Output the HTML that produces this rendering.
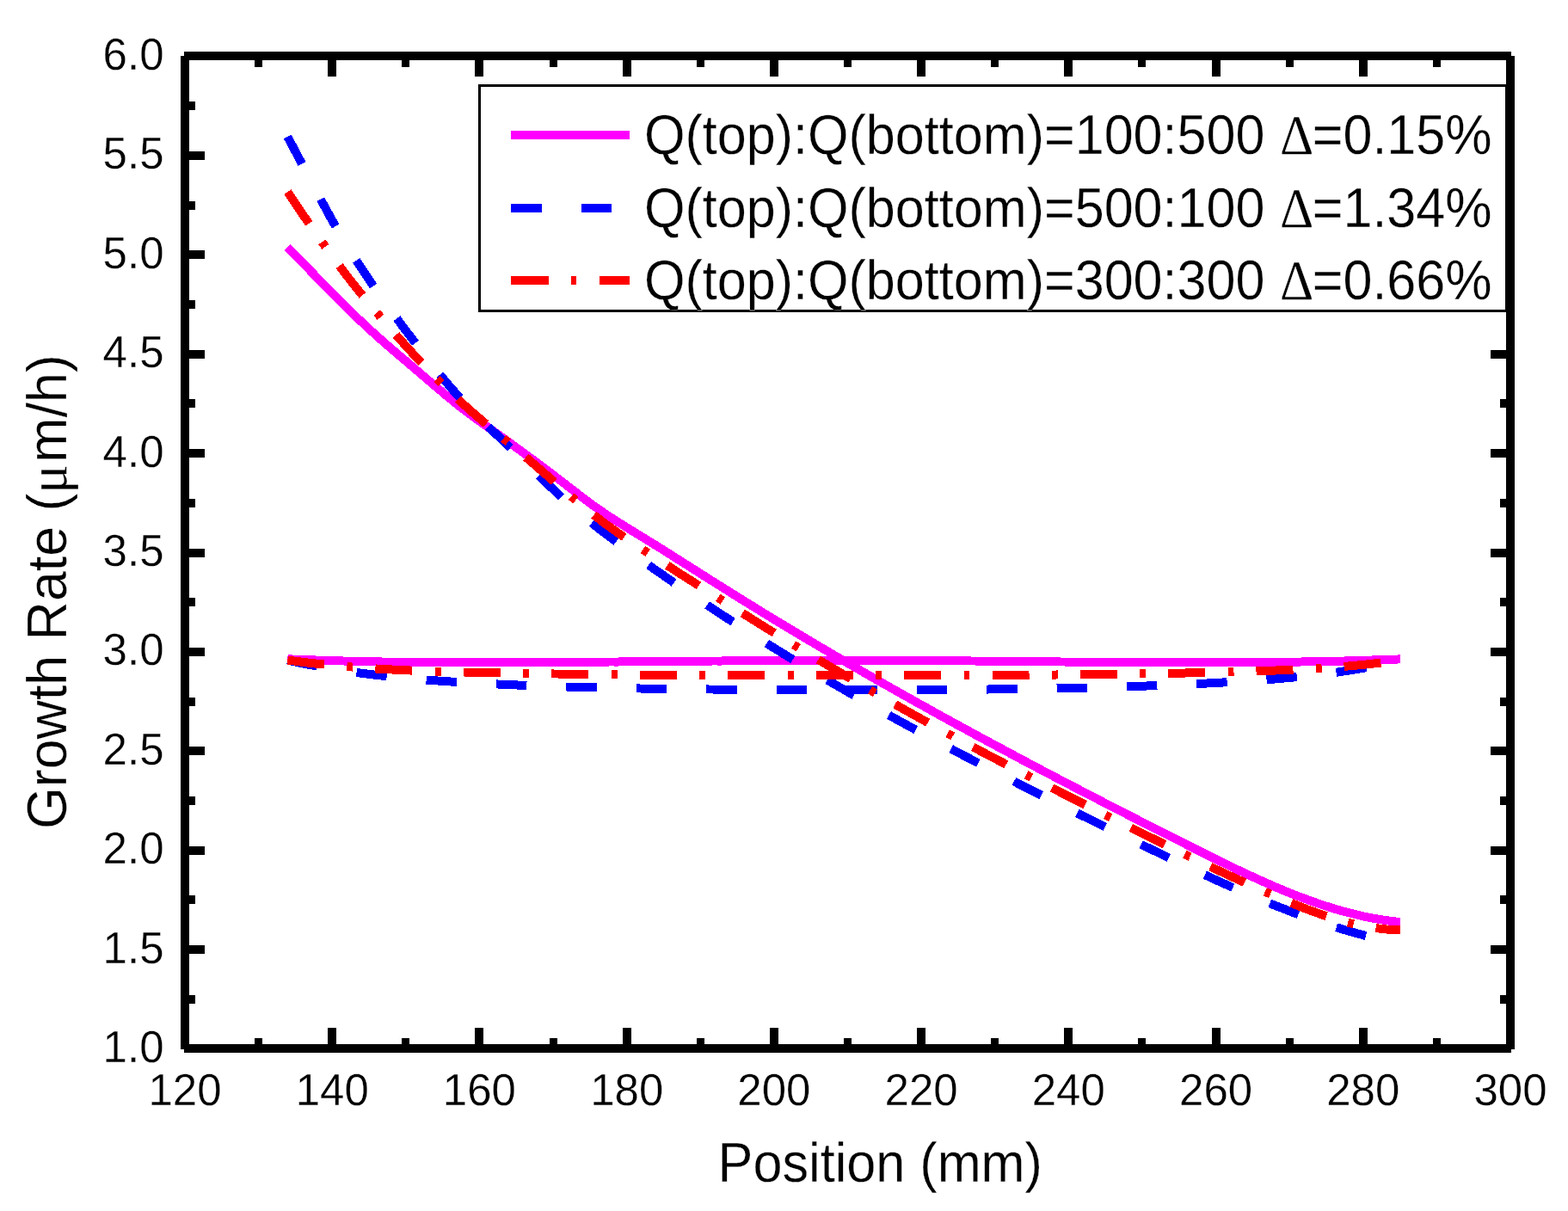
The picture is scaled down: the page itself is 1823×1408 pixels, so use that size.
<!DOCTYPE html>
<html lang="en"><head><meta charset="utf-8"><title>Growth Rate vs Position</title>
<style>html,body{margin:0;padding:0;background:#fff;overflow:hidden}svg{display:block}text{font-family:"Liberation Sans",Arial,sans-serif;fill:#000;stroke:#fff;stroke-width:0.3px;paint-order:fill stroke}.sym{font-family:"Liberation Serif","DejaVu Serif",serif}</style></head><body>
<svg width="1823" height="1408" viewBox="0 0 1823 1408">
<rect width="1823" height="1408" fill="#fff"/>
<g fill="none" stroke-width="10" stroke-linecap="butt" stroke-linejoin="round" shape-rendering="crispEdges">
<path stroke="#ff00ff" d="M334.3,766.2 L339.3,766.5 L344.3,766.7 L349.3,766.9 L354.3,767.0 L359.3,767.2 L364.3,767.4 L369.3,767.6 L374.3,767.8 L379.3,767.9 L384.2,768.1 L389.2,768.2 L394.2,768.4 L399.2,768.5 L404.2,768.6 L409.2,768.8 L414.2,768.9 L419.2,769.0 L424.2,769.1 L429.2,769.2 L434.2,769.3 L439.2,769.4 L444.2,769.5 L449.2,769.6 L454.2,769.7 L459.2,769.7 L464.2,769.8 L469.2,769.9 L474.2,769.9 L479.2,770.0 L484.1,770.0 L489.1,770.1 L494.1,770.1 L499.1,770.2 L504.1,770.2 L509.1,770.3 L514.1,770.3 L519.1,770.3 L524.1,770.3 L529.1,770.4 L534.1,770.4 L539.1,770.4 L544.1,770.4 L549.1,770.4 L554.1,770.4 L559.1,770.4 L564.1,770.4 L569.1,770.4 L574.1,770.4 L579.1,770.4 L584.0,770.4 L589.0,770.4 L594.0,770.4 L599.0,770.3 L604.0,770.3 L609.0,770.3 L614.0,770.3 L619.0,770.2 L624.0,770.2 L629.0,770.2 L634.0,770.2 L639.0,770.1 L644.0,770.1 L649.0,770.0 L654.0,770.0 L659.0,770.0 L664.0,769.9 L669.0,769.9 L674.0,769.9 L679.0,769.8 L683.9,769.8 L688.9,769.7 L693.9,769.7 L698.9,769.6 L703.9,769.6 L708.9,769.5 L713.9,769.5 L718.9,769.5 L723.9,769.4 L728.9,769.4 L733.9,769.3 L738.9,769.3 L743.9,769.2 L748.9,769.2 L753.9,769.1 L758.9,769.1 L763.9,769.1 L768.9,769.0 L773.9,769.0 L778.9,768.9 L783.8,768.9 L788.8,768.9 L793.8,768.8 L798.8,768.8 L803.8,768.7 L808.8,768.7 L813.8,768.7 L818.8,768.6 L823.8,768.6 L828.8,768.5 L833.8,768.5 L838.8,768.5 L843.8,768.4 L848.8,768.4 L853.8,768.4 L858.8,768.3 L863.8,768.3 L868.8,768.3 L873.8,768.3 L878.8,768.2 L883.7,768.2 L888.7,768.2 L893.7,768.1 L898.7,768.1 L903.7,768.1 L908.7,768.1 L913.7,768.1 L918.7,768.0 L923.7,768.0 L928.7,768.0 L933.7,768.0 L938.7,768.0 L943.7,768.0 L948.7,767.9 L953.7,767.9 L958.7,767.9 L963.7,767.9 L968.7,767.9 L973.7,767.9 L978.7,767.9 L983.6,767.9 L988.6,767.9 L993.6,767.9 L998.6,767.9 L1003.6,767.9 L1008.6,767.9 L1013.6,767.9 L1018.6,767.9 L1023.6,767.9 L1028.6,767.9 L1033.6,767.9 L1038.6,767.9 L1043.6,768.0 L1048.6,768.0 L1053.6,768.0 L1058.6,768.0 L1063.6,768.0 L1068.6,768.1 L1073.6,768.1 L1078.6,768.1 L1083.5,768.1 L1088.5,768.2 L1093.5,768.2 L1098.5,768.2 L1103.5,768.3 L1108.5,768.3 L1113.5,768.3 L1118.5,768.4 L1123.5,768.4 L1128.5,768.5 L1133.5,768.5 L1138.5,768.5 L1143.5,768.6 L1148.5,768.6 L1153.5,768.7 L1158.5,768.7 L1163.5,768.8 L1168.5,768.8 L1173.5,768.9 L1178.5,768.9 L1183.4,769.0 L1188.4,769.0 L1193.4,769.1 L1198.4,769.1 L1203.4,769.2 L1208.4,769.2 L1213.4,769.3 L1218.4,769.3 L1223.4,769.4 L1228.4,769.4 L1233.4,769.5 L1238.4,769.5 L1243.4,769.6 L1248.4,769.6 L1253.4,769.6 L1258.4,769.7 L1263.4,769.7 L1268.4,769.8 L1273.4,769.8 L1278.4,769.9 L1283.3,769.9 L1288.3,769.9 L1293.3,770.0 L1298.3,770.0 L1303.3,770.1 L1308.3,770.1 L1313.3,770.1 L1318.3,770.2 L1323.3,770.2 L1328.3,770.2 L1333.3,770.2 L1338.3,770.3 L1343.3,770.3 L1348.3,770.3 L1353.3,770.3 L1358.3,770.4 L1363.3,770.4 L1368.3,770.4 L1373.3,770.4 L1378.3,770.4 L1383.2,770.4 L1388.2,770.4 L1393.2,770.4 L1398.2,770.4 L1403.2,770.4 L1408.2,770.4 L1413.2,770.4 L1418.2,770.4 L1423.2,770.4 L1428.2,770.3 L1433.2,770.3 L1438.2,770.3 L1443.2,770.3 L1448.2,770.2 L1453.2,770.2 L1458.2,770.2 L1463.2,770.1 L1468.2,770.1 L1473.2,770.0 L1478.2,770.0 L1483.1,769.9 L1488.1,769.9 L1493.1,769.8 L1498.1,769.7 L1503.1,769.7 L1508.1,769.6 L1513.1,769.5 L1518.1,769.4 L1523.1,769.3 L1528.1,769.2 L1533.1,769.1 L1538.1,769.0 L1543.1,768.9 L1548.1,768.8 L1553.1,768.7 L1558.1,768.6 L1563.1,768.5 L1568.1,768.3 L1573.1,768.2 L1578.1,768.1 L1583.0,767.9 L1588.0,767.8 L1593.0,767.6 L1598.0,767.4 L1603.0,767.3 L1608.0,767.1 L1613.0,766.9 L1618.0,766.7 L1623.0,766.6 L1628.0,766.4"/>
<path stroke="#ff00ff" d="M334.3,287.4 L339.3,292.5 L344.3,297.7 L349.3,302.9 L354.3,308.0 L359.3,313.2 L364.3,318.3 L369.3,323.5 L374.3,328.6 L379.3,333.7 L384.2,338.8 L389.2,343.8 L394.2,348.8 L399.2,353.8 L404.2,358.7 L409.2,363.6 L414.2,368.4 L419.2,373.2 L424.2,377.9 L429.2,382.5 L434.2,387.1 L439.2,391.6 L444.2,396.0 L449.2,400.4 L454.2,404.7 L459.2,409.0 L464.2,413.3 L469.2,417.5 L474.2,421.7 L479.2,426.0 L484.1,430.2 L489.1,434.5 L494.1,438.8 L499.1,443.1 L504.1,447.4 L509.1,451.6 L514.1,455.8 L519.1,460.0 L524.1,464.1 L529.1,468.2 L534.1,472.2 L539.1,476.1 L544.1,479.9 L549.1,483.6 L554.1,487.3 L559.1,490.9 L564.1,494.5 L569.1,498.0 L574.1,501.6 L579.1,505.1 L584.0,508.7 L589.0,512.2 L594.0,515.8 L599.0,519.4 L604.0,523.1 L609.0,526.7 L614.0,530.4 L619.0,534.1 L624.0,537.8 L629.0,541.5 L634.0,545.3 L639.0,549.0 L644.0,552.8 L649.0,556.7 L654.0,560.5 L659.0,564.4 L664.0,568.2 L669.0,572.1 L674.0,575.9 L679.0,579.7 L683.9,583.4 L688.9,587.1 L693.9,590.6 L698.9,594.1 L703.9,597.5 L708.9,600.8 L713.9,604.0 L718.9,607.2 L723.9,610.3 L728.9,613.4 L733.9,616.5 L738.9,619.6 L743.9,622.6 L748.9,625.7 L753.9,628.8 L758.9,631.9 L763.9,635.0 L768.9,638.1 L773.9,641.2 L778.9,644.4 L783.8,647.5 L788.8,650.7 L793.8,653.8 L798.8,657.0 L803.8,660.2 L808.8,663.3 L813.8,666.5 L818.8,669.7 L823.8,672.8 L828.8,676.0 L833.8,679.1 L838.8,682.3 L843.8,685.4 L848.8,688.6 L853.8,691.7 L858.8,694.8 L863.8,697.9 L868.8,701.0 L873.8,704.1 L878.8,707.1 L883.7,710.2 L888.7,713.3 L893.7,716.3 L898.7,719.4 L903.7,722.4 L908.7,725.4 L913.7,728.4 L918.7,731.4 L923.7,734.4 L928.7,737.4 L933.7,740.4 L938.7,743.4 L943.7,746.4 L948.7,749.3 L953.7,752.3 L958.7,755.2 L963.7,758.1 L968.7,761.1 L973.7,764.0 L978.7,766.9 L983.6,769.8 L988.6,772.7 L993.6,775.6 L998.6,778.5 L1003.6,781.4 L1008.6,784.2 L1013.6,787.1 L1018.6,790.0 L1023.6,792.8 L1028.6,795.7 L1033.6,798.5 L1038.6,801.3 L1043.6,804.1 L1048.6,807.0 L1053.6,809.8 L1058.6,812.6 L1063.6,815.4 L1068.6,818.2 L1073.6,820.9 L1078.6,823.7 L1083.5,826.5 L1088.5,829.3 L1093.5,832.0 L1098.5,834.8 L1103.5,837.5 L1108.5,840.3 L1113.5,843.0 L1118.5,845.7 L1123.5,848.4 L1128.5,851.2 L1133.5,853.9 L1138.5,856.6 L1143.5,859.3 L1148.5,862.0 L1153.5,864.7 L1158.5,867.4 L1163.5,870.0 L1168.5,872.7 L1173.5,875.4 L1178.5,878.1 L1183.4,880.7 L1188.4,883.4 L1193.4,886.0 L1198.4,888.7 L1203.4,891.3 L1208.4,893.9 L1213.4,896.6 L1218.4,899.2 L1223.4,901.8 L1228.4,904.5 L1233.4,907.1 L1238.4,909.7 L1243.4,912.3 L1248.4,914.9 L1253.4,917.5 L1258.4,920.1 L1263.4,922.7 L1268.4,925.3 L1273.4,927.8 L1278.4,930.4 L1283.3,933.0 L1288.3,935.6 L1293.3,938.1 L1298.3,940.7 L1303.3,943.3 L1308.3,945.8 L1313.3,948.4 L1318.3,950.9 L1323.3,953.5 L1328.3,956.0 L1333.3,958.6 L1338.3,961.1 L1343.3,963.7 L1348.3,966.2 L1353.3,968.7 L1358.3,971.2 L1363.3,973.8 L1368.3,976.3 L1373.3,978.8 L1378.3,981.3 L1383.2,983.9 L1388.2,986.4 L1393.2,988.9 L1398.2,991.4 L1403.2,993.9 L1408.2,996.4 L1413.2,998.8 L1418.2,1001.3 L1423.2,1003.7 L1428.2,1006.2 L1433.2,1008.6 L1438.2,1011.0 L1443.2,1013.3 L1448.2,1015.7 L1453.2,1018.0 L1458.2,1020.3 L1463.2,1022.6 L1468.2,1024.8 L1473.2,1027.0 L1478.2,1029.2 L1483.1,1031.4 L1488.1,1033.5 L1493.1,1035.6 L1498.1,1037.6 L1503.1,1039.6 L1508.1,1041.6 L1513.1,1043.5 L1518.1,1045.3 L1523.1,1047.2 L1528.1,1048.9 L1533.1,1050.7 L1538.1,1052.3 L1543.1,1054.0 L1548.1,1055.5 L1553.1,1057.1 L1558.1,1058.5 L1563.1,1059.9 L1568.1,1061.2 L1573.1,1062.5 L1578.1,1063.7 L1583.0,1064.9 L1588.0,1066.0 L1593.0,1067.0 L1598.0,1067.9 L1603.0,1068.8 L1608.0,1069.6 L1613.0,1070.3 L1618.0,1071.0 L1623.0,1071.5 L1628.0,1072.0"/>
<path stroke="#0000ff" stroke-dasharray="35.4 46.15 35.4 46.14 35.4 46.13 35.4 46.11 35.4 46.1 35.4 46.09 35.4 46.07 35.4 46.06 35.4 46.05 35.4 46.03 35.4 46.02 35.4 46.01 35.4 45.99 35.4 45.98 35.4 45.97 35.4 200" d="M334.3,767.5 L339.3,768.6 L344.3,769.7 L349.3,770.8 L354.3,771.8 L359.3,772.8 L364.3,773.7 L369.3,774.7 L374.3,775.6 L379.3,776.4 L384.2,777.3 L389.2,778.1 L394.2,778.9 L399.2,779.7 L404.2,780.4 L409.2,781.2 L414.2,781.9 L419.2,782.6 L424.2,783.2 L429.2,783.9 L434.2,784.5 L439.2,785.1 L444.2,785.6 L449.2,786.2 L454.2,786.7 L459.2,787.3 L464.2,787.8 L469.2,788.2 L474.2,788.7 L479.2,789.2 L484.1,789.6 L489.1,790.0 L494.1,790.4 L499.1,790.8 L504.1,791.2 L509.1,791.5 L514.1,791.9 L519.1,792.2 L524.1,792.5 L529.1,792.9 L534.1,793.2 L539.1,793.5 L544.1,793.7 L549.1,794.0 L554.1,794.3 L559.1,794.5 L564.1,794.8 L569.1,795.0 L574.1,795.3 L579.1,795.5 L584.0,795.7 L589.0,796.0 L594.0,796.2 L599.0,796.4 L604.0,796.6 L609.0,796.8 L614.0,797.0 L619.0,797.2 L624.0,797.4 L629.0,797.5 L634.0,797.7 L639.0,797.9 L644.0,798.1 L649.0,798.2 L654.0,798.4 L659.0,798.5 L664.0,798.7 L669.0,798.8 L674.0,799.0 L679.0,799.1 L683.9,799.2 L688.9,799.3 L693.9,799.5 L698.9,799.6 L703.9,799.7 L708.9,799.8 L713.9,799.9 L718.9,800.0 L723.9,800.1 L728.9,800.2 L733.9,800.3 L738.9,800.4 L743.9,800.5 L748.9,800.6 L753.9,800.7 L758.9,800.7 L763.9,800.8 L768.9,800.9 L773.9,801.0 L778.9,801.0 L783.8,801.1 L788.8,801.1 L793.8,801.2 L798.8,801.3 L803.8,801.3 L808.8,801.4 L813.8,801.4 L818.8,801.4 L823.8,801.5 L828.8,801.5 L833.8,801.6 L838.8,801.6 L843.8,801.6 L848.8,801.7 L853.8,801.7 L858.8,801.7 L863.8,801.7 L868.8,801.8 L873.8,801.8 L878.8,801.8 L883.7,801.8 L888.7,801.8 L893.7,801.9 L898.7,801.9 L903.7,801.9 L908.7,801.9 L913.7,801.9 L918.7,801.9 L923.7,801.9 L928.7,801.9 L933.7,801.9 L938.7,801.9 L943.7,802.0 L948.7,802.0 L953.7,802.0 L958.7,802.0 L963.7,802.0 L968.7,802.0 L973.7,802.0 L978.7,802.0 L983.6,802.0 L988.6,802.0 L993.6,802.0 L998.6,802.0 L1003.6,802.0 L1008.6,802.0 L1013.6,802.0 L1018.6,802.0 L1023.6,802.0 L1028.6,802.0 L1033.6,802.0 L1038.6,802.0 L1043.6,801.9 L1048.6,801.9 L1053.6,801.9 L1058.6,801.9 L1063.6,801.9 L1068.6,801.9 L1073.6,801.9 L1078.6,801.9 L1083.5,801.8 L1088.5,801.8 L1093.5,801.8 L1098.5,801.8 L1103.5,801.8 L1108.5,801.7 L1113.5,801.7 L1118.5,801.7 L1123.5,801.6 L1128.5,801.6 L1133.5,801.6 L1138.5,801.5 L1143.5,801.5 L1148.5,801.5 L1153.5,801.4 L1158.5,801.4 L1163.5,801.3 L1168.5,801.3 L1173.5,801.2 L1178.5,801.1 L1183.4,801.1 L1188.4,801.0 L1193.4,800.9 L1198.4,800.9 L1203.4,800.8 L1208.4,800.7 L1213.4,800.6 L1218.4,800.6 L1223.4,800.5 L1228.4,800.4 L1233.4,800.3 L1238.4,800.2 L1243.4,800.1 L1248.4,800.0 L1253.4,799.9 L1258.4,799.8 L1263.4,799.6 L1268.4,799.5 L1273.4,799.4 L1278.4,799.3 L1283.3,799.1 L1288.3,799.0 L1293.3,798.8 L1298.3,798.7 L1303.3,798.5 L1308.3,798.4 L1313.3,798.2 L1318.3,798.1 L1323.3,797.9 L1328.3,797.7 L1333.3,797.5 L1338.3,797.4 L1343.3,797.2 L1348.3,797.0 L1353.3,796.8 L1358.3,796.6 L1363.3,796.4 L1368.3,796.1 L1373.3,795.9 L1378.3,795.7 L1383.2,795.5 L1388.2,795.2 L1393.2,795.0 L1398.2,794.7 L1403.2,794.5 L1408.2,794.2 L1413.2,793.9 L1418.2,793.7 L1423.2,793.4 L1428.2,793.1 L1433.2,792.8 L1438.2,792.5 L1443.2,792.2 L1448.2,791.9 L1453.2,791.6 L1458.2,791.2 L1463.2,790.9 L1468.2,790.5 L1473.2,790.1 L1478.2,789.8 L1483.1,789.4 L1488.1,788.9 L1493.1,788.5 L1498.1,788.1 L1503.1,787.6 L1508.1,787.1 L1513.1,786.6 L1518.1,786.1 L1523.1,785.5 L1528.1,785.0 L1533.1,784.4 L1538.1,783.8 L1543.1,783.1 L1548.1,782.5 L1553.1,781.8 L1558.1,781.1 L1563.1,780.3 L1568.1,779.6 L1573.1,778.8 L1578.1,778.0 L1583.0,777.1 L1588.0,776.2 L1593.0,775.3 L1598.0,774.3 L1603.0,773.3 L1608.0,772.3 L1613.0,771.2 L1618.0,770.1 L1623.0,769.0 L1628.0,767.8"/>
<path stroke="#0000ff" stroke-dasharray="35.8 46.51 35.8 46.52 35.8 46.52 35.8 46.52 35.8 46.53 35.8 46.53 35.8 46.53 35.8 46.54 35.8 46.54 35.8 46.54 35.8 46.55 35.8 46.55 35.8 46.55 35.8 46.56 35.8 46.56 35.8 46.56 35.8 46.57 35.8 46.57 35.8 46.57 35.8 200" d="M334.3,159.0 L339.3,168.3 L344.3,177.8 L349.3,187.2 L354.3,196.7 L359.3,206.3 L364.3,215.7 L369.3,225.1 L374.3,234.5 L379.3,243.6 L384.2,252.7 L389.2,261.5 L394.2,270.1 L399.2,278.6 L404.2,286.8 L409.2,294.8 L414.2,302.6 L419.2,310.3 L424.2,317.9 L429.2,325.3 L434.2,332.5 L439.2,339.7 L444.2,346.8 L449.2,353.7 L454.2,360.6 L459.2,367.4 L464.2,374.1 L469.2,380.8 L474.2,387.4 L479.2,394.0 L484.1,400.6 L489.1,407.1 L494.1,413.6 L499.1,420.0 L504.1,426.4 L509.1,432.6 L514.1,438.7 L519.1,444.7 L524.1,450.6 L529.1,456.3 L534.1,461.8 L539.1,467.2 L544.1,472.5 L549.1,477.7 L554.1,482.7 L559.1,487.7 L564.1,492.6 L569.1,497.4 L574.1,502.2 L579.1,507.0 L584.0,511.8 L589.0,516.6 L594.0,521.4 L599.0,526.2 L604.0,531.1 L609.0,536.0 L614.0,540.9 L619.0,545.8 L624.0,550.6 L629.0,555.5 L634.0,560.3 L639.0,565.1 L644.0,569.8 L649.0,574.4 L654.0,579.0 L659.0,583.4 L664.0,587.8 L669.0,592.1 L674.0,596.4 L679.0,600.5 L683.9,604.6 L688.9,608.7 L693.9,612.7 L698.9,616.6 L703.9,620.4 L708.9,624.2 L713.9,628.0 L718.9,631.7 L723.9,635.4 L728.9,639.1 L733.9,642.7 L738.9,646.3 L743.9,649.8 L748.9,653.4 L753.9,656.9 L758.9,660.4 L763.9,663.9 L768.9,667.4 L773.9,670.8 L778.9,674.3 L783.8,677.7 L788.8,681.1 L793.8,684.5 L798.8,687.9 L803.8,691.3 L808.8,694.6 L813.8,698.0 L818.8,701.3 L823.8,704.6 L828.8,707.9 L833.8,711.2 L838.8,714.5 L843.8,717.7 L848.8,721.0 L853.8,724.2 L858.8,727.4 L863.8,730.6 L868.8,733.8 L873.8,737.0 L878.8,740.1 L883.7,743.3 L888.7,746.4 L893.7,749.5 L898.7,752.6 L903.7,755.7 L908.7,758.8 L913.7,761.8 L918.7,764.9 L923.7,767.9 L928.7,770.9 L933.7,773.9 L938.7,776.9 L943.7,779.9 L948.7,782.9 L953.7,785.8 L958.7,788.8 L963.7,791.7 L968.7,794.6 L973.7,797.5 L978.7,800.4 L983.6,803.3 L988.6,806.2 L993.6,809.0 L998.6,811.9 L1003.6,814.7 L1008.6,817.6 L1013.6,820.4 L1018.6,823.2 L1023.6,826.0 L1028.6,828.8 L1033.6,831.6 L1038.6,834.3 L1043.6,837.1 L1048.6,839.8 L1053.6,842.6 L1058.6,845.3 L1063.6,848.0 L1068.6,850.7 L1073.6,853.4 L1078.6,856.1 L1083.5,858.8 L1088.5,861.5 L1093.5,864.2 L1098.5,866.8 L1103.5,869.5 L1108.5,872.1 L1113.5,874.7 L1118.5,877.4 L1123.5,880.0 L1128.5,882.6 L1133.5,885.2 L1138.5,887.8 L1143.5,890.4 L1148.5,893.0 L1153.5,895.6 L1158.5,898.1 L1163.5,900.7 L1168.5,903.2 L1173.5,905.8 L1178.5,908.3 L1183.4,910.9 L1188.4,913.4 L1193.4,915.9 L1198.4,918.5 L1203.4,921.0 L1208.4,923.5 L1213.4,926.0 L1218.4,928.5 L1223.4,931.0 L1228.4,933.5 L1233.4,936.0 L1238.4,938.5 L1243.4,940.9 L1248.4,943.4 L1253.4,945.9 L1258.4,948.4 L1263.4,950.8 L1268.4,953.3 L1273.4,955.7 L1278.4,958.2 L1283.3,960.6 L1288.3,963.1 L1293.3,965.5 L1298.3,968.0 L1303.3,970.4 L1308.3,972.8 L1313.3,975.3 L1318.3,977.7 L1323.3,980.1 L1328.3,982.6 L1333.3,985.0 L1338.3,987.4 L1343.3,989.8 L1348.3,992.2 L1353.3,994.7 L1358.3,997.1 L1363.3,999.5 L1368.3,1001.8 L1373.3,1004.2 L1378.3,1006.6 L1383.2,1009.0 L1388.2,1011.3 L1393.2,1013.7 L1398.2,1016.0 L1403.2,1018.3 L1408.2,1020.6 L1413.2,1022.9 L1418.2,1025.2 L1423.2,1027.4 L1428.2,1029.7 L1433.2,1031.9 L1438.2,1034.1 L1443.2,1036.3 L1448.2,1038.4 L1453.2,1040.6 L1458.2,1042.7 L1463.2,1044.8 L1468.2,1046.9 L1473.2,1049.0 L1478.2,1051.0 L1483.1,1053.0 L1488.1,1055.0 L1493.1,1056.9 L1498.1,1058.9 L1503.1,1060.8 L1508.1,1062.6 L1513.1,1064.5 L1518.1,1066.3 L1523.1,1068.1 L1528.1,1069.8 L1533.1,1071.5 L1538.1,1073.2 L1543.1,1074.9 L1548.1,1076.5 L1553.1,1078.1 L1558.1,1079.6 L1563.1,1081.1 L1568.1,1082.6 L1573.1,1084.0 L1578.1,1085.4 L1583.0,1086.7 L1588.0,1088.1 L1593.0,1089.3 L1598.0,1090.5 L1603.0,1091.7 L1608.0,1092.9 L1613.0,1094.0 L1618.0,1095.0 L1623.0,1096.0 L1628.0,1097.0"/>
<path stroke="#ff0000" stroke-dasharray="43 26.5 6.8 26.29 43 26.5 6.8 26.26 43 26.5 6.8 26.23 43 26.5 6.8 26.2 43 26.5 6.8 26.17 43 26.5 6.8 26.14 43 26.5 6.8 26.11 43 26.5 6.8 26.09 43 26.5 6.8 26.06 43 26.5 6.8 26.03 43 26.5 6.8 26 43 26.5 6.8 25.97 43 200" d="M334.3,767.5 L339.3,768.2 L344.3,768.8 L349.3,769.5 L354.3,770.1 L359.3,770.7 L364.3,771.3 L369.3,771.8 L374.3,772.3 L379.3,772.8 L384.2,773.3 L389.2,773.8 L394.2,774.3 L399.2,774.7 L404.2,775.1 L409.2,775.5 L414.2,775.9 L419.2,776.3 L424.2,776.6 L429.2,777.0 L434.2,777.3 L439.2,777.6 L444.2,777.9 L449.2,778.2 L454.2,778.4 L459.2,778.7 L464.2,778.9 L469.2,779.2 L474.2,779.4 L479.2,779.6 L484.1,779.8 L489.1,780.0 L494.1,780.2 L499.1,780.4 L504.1,780.5 L509.1,780.7 L514.1,780.8 L519.1,781.0 L524.1,781.1 L529.1,781.3 L534.1,781.4 L539.1,781.5 L544.1,781.6 L549.1,781.8 L554.1,781.9 L559.1,782.0 L564.1,782.1 L569.1,782.2 L574.1,782.3 L579.1,782.4 L584.0,782.5 L589.0,782.6 L594.0,782.7 L599.0,782.8 L604.0,782.8 L609.0,782.9 L614.0,783.0 L619.0,783.1 L624.0,783.2 L629.0,783.3 L634.0,783.3 L639.0,783.4 L644.0,783.5 L649.0,783.5 L654.0,783.6 L659.0,783.7 L664.0,783.7 L669.0,783.8 L674.0,783.9 L679.0,783.9 L683.9,784.0 L688.9,784.0 L693.9,784.1 L698.9,784.1 L703.9,784.2 L708.9,784.2 L713.9,784.3 L718.9,784.3 L723.9,784.4 L728.9,784.4 L733.9,784.4 L738.9,784.5 L743.9,784.5 L748.9,784.6 L753.9,784.6 L758.9,784.6 L763.9,784.7 L768.9,784.7 L773.9,784.7 L778.9,784.7 L783.8,784.8 L788.8,784.8 L793.8,784.8 L798.8,784.8 L803.8,784.9 L808.8,784.9 L813.8,784.9 L818.8,784.9 L823.8,784.9 L828.8,784.9 L833.8,785.0 L838.8,785.0 L843.8,785.0 L848.8,785.0 L853.8,785.0 L858.8,785.0 L863.8,785.0 L868.8,785.0 L873.8,785.0 L878.8,785.0 L883.7,785.0 L888.7,785.0 L893.7,785.0 L898.7,785.1 L903.7,785.1 L908.7,785.1 L913.7,785.1 L918.7,785.1 L923.7,785.1 L928.7,785.1 L933.7,785.1 L938.7,785.1 L943.7,785.1 L948.7,785.0 L953.7,785.0 L958.7,785.0 L963.7,785.0 L968.7,785.0 L973.7,785.0 L978.7,785.0 L983.6,785.0 L988.6,785.0 L993.6,785.0 L998.6,785.0 L1003.6,785.0 L1008.6,785.0 L1013.6,785.0 L1018.6,785.0 L1023.6,785.0 L1028.6,785.0 L1033.6,785.0 L1038.6,785.0 L1043.6,784.9 L1048.6,784.9 L1053.6,784.9 L1058.6,784.9 L1063.6,784.9 L1068.6,784.9 L1073.6,784.9 L1078.6,784.9 L1083.5,784.9 L1088.5,784.9 L1093.5,784.9 L1098.5,784.9 L1103.5,784.9 L1108.5,784.9 L1113.5,784.9 L1118.5,784.9 L1123.5,784.8 L1128.5,784.8 L1133.5,784.8 L1138.5,784.8 L1143.5,784.8 L1148.5,784.8 L1153.5,784.8 L1158.5,784.8 L1163.5,784.8 L1168.5,784.7 L1173.5,784.7 L1178.5,784.7 L1183.4,784.7 L1188.4,784.7 L1193.4,784.7 L1198.4,784.6 L1203.4,784.6 L1208.4,784.6 L1213.4,784.6 L1218.4,784.5 L1223.4,784.5 L1228.4,784.5 L1233.4,784.4 L1238.4,784.4 L1243.4,784.4 L1248.4,784.3 L1253.4,784.3 L1258.4,784.3 L1263.4,784.2 L1268.4,784.2 L1273.4,784.1 L1278.4,784.1 L1283.3,784.0 L1288.3,784.0 L1293.3,783.9 L1298.3,783.8 L1303.3,783.8 L1308.3,783.7 L1313.3,783.7 L1318.3,783.6 L1323.3,783.5 L1328.3,783.4 L1333.3,783.4 L1338.3,783.3 L1343.3,783.2 L1348.3,783.1 L1353.3,783.0 L1358.3,782.9 L1363.3,782.8 L1368.3,782.7 L1373.3,782.6 L1378.3,782.5 L1383.2,782.4 L1388.2,782.3 L1393.2,782.2 L1398.2,782.1 L1403.2,782.0 L1408.2,781.8 L1413.2,781.7 L1418.2,781.6 L1423.2,781.4 L1428.2,781.3 L1433.2,781.2 L1438.2,781.0 L1443.2,780.9 L1448.2,780.7 L1453.2,780.5 L1458.2,780.4 L1463.2,780.2 L1468.2,780.0 L1473.2,779.8 L1478.2,779.7 L1483.1,779.5 L1488.1,779.3 L1493.1,779.1 L1498.1,778.8 L1503.1,778.6 L1508.1,778.4 L1513.1,778.1 L1518.1,777.9 L1523.1,777.6 L1528.1,777.3 L1533.1,777.0 L1538.1,776.7 L1543.1,776.4 L1548.1,776.0 L1553.1,775.6 L1558.1,775.3 L1563.1,774.9 L1568.1,774.4 L1573.1,774.0 L1578.1,773.5 L1583.0,773.0 L1588.0,772.5 L1593.0,772.0 L1598.0,771.4 L1603.0,770.8 L1608.0,770.2 L1613.0,769.6 L1618.0,768.9 L1623.0,768.2 L1628.0,767.5"/>
<path stroke="#ff0000" stroke-dasharray="44.4 26.2 6.8 27.47 43.6 26.2 6.8 27.38 43.6 26.2 6.8 27.29 43.6 26.2 6.8 27.2 43.6 26.2 6.8 27.11 43.6 26.2 6.8 27.02 43.6 26.2 6.8 26.93 43.6 26.2 6.8 26.84 43.6 26.2 6.8 26.75 43.6 26.2 6.8 26.66 43.6 26.2 6.8 26.57 43.6 26.2 6.8 26.48 43.6 26.2 6.8 26.39 43.6 26.2 6.8 26.3 43.6 26.2 6.8 26.21 43.6 200" d="M334.3,223.2 L339.3,230.6 L344.3,238.0 L349.3,245.4 L354.3,252.7 L359.3,260.0 L364.3,267.2 L369.3,274.3 L374.3,281.4 L379.3,288.3 L384.2,295.2 L389.2,302.0 L394.2,308.7 L399.2,315.3 L404.2,321.8 L409.2,328.3 L414.2,334.6 L419.2,340.8 L424.2,346.9 L429.2,353.0 L434.2,359.0 L439.2,364.9 L444.2,370.8 L449.2,376.6 L454.2,382.3 L459.2,388.0 L464.2,393.6 L469.2,399.2 L474.2,404.8 L479.2,410.2 L484.1,415.6 L489.1,421.0 L494.1,426.3 L499.1,431.5 L504.1,436.6 L509.1,441.7 L514.1,446.7 L519.1,451.6 L524.1,456.4 L529.1,461.1 L534.1,465.8 L539.1,470.3 L544.1,474.8 L549.1,479.2 L554.1,483.5 L559.1,487.8 L564.1,492.1 L569.1,496.3 L574.1,500.4 L579.1,504.6 L584.0,508.7 L589.0,512.9 L594.0,517.0 L599.0,521.2 L604.0,525.4 L609.0,529.6 L614.0,533.8 L619.0,538.1 L624.0,542.4 L629.0,546.8 L634.0,551.1 L639.0,555.5 L644.0,559.9 L649.0,564.2 L654.0,568.5 L659.0,572.8 L664.0,577.1 L669.0,581.3 L674.0,585.5 L679.0,589.6 L683.9,593.7 L688.9,597.6 L693.9,601.5 L698.9,605.3 L703.9,609.1 L708.9,612.7 L713.9,616.3 L718.9,619.9 L723.9,623.4 L728.9,626.8 L733.9,630.2 L738.9,633.5 L743.9,636.9 L748.9,640.1 L753.9,643.4 L758.9,646.6 L763.9,649.8 L768.9,653.0 L773.9,656.2 L778.9,659.4 L783.8,662.6 L788.8,665.8 L793.8,669.0 L798.8,672.2 L803.8,675.3 L808.8,678.5 L813.8,681.7 L818.8,684.9 L823.8,688.0 L828.8,691.2 L833.8,694.4 L838.8,697.5 L843.8,700.7 L848.8,703.8 L853.8,707.0 L858.8,710.1 L863.8,713.2 L868.8,716.3 L873.8,719.5 L878.8,722.6 L883.7,725.7 L888.7,728.8 L893.7,731.9 L898.7,735.0 L903.7,738.0 L908.7,741.1 L913.7,744.2 L918.7,747.2 L923.7,750.3 L928.7,753.3 L933.7,756.3 L938.7,759.4 L943.7,762.4 L948.7,765.4 L953.7,768.4 L958.7,771.3 L963.7,774.3 L968.7,777.3 L973.7,780.2 L978.7,783.2 L983.6,786.1 L988.6,789.0 L993.6,791.9 L998.6,794.9 L1003.6,797.8 L1008.6,800.6 L1013.6,803.5 L1018.6,806.4 L1023.6,809.3 L1028.6,812.1 L1033.6,814.9 L1038.6,817.8 L1043.6,820.6 L1048.6,823.4 L1053.6,826.2 L1058.6,829.0 L1063.6,831.8 L1068.6,834.6 L1073.6,837.3 L1078.6,840.1 L1083.5,842.8 L1088.5,845.6 L1093.5,848.3 L1098.5,851.0 L1103.5,853.7 L1108.5,856.4 L1113.5,859.1 L1118.5,861.8 L1123.5,864.5 L1128.5,867.1 L1133.5,869.8 L1138.5,872.4 L1143.5,875.0 L1148.5,877.7 L1153.5,880.3 L1158.5,882.9 L1163.5,885.5 L1168.5,888.1 L1173.5,890.7 L1178.5,893.3 L1183.4,895.9 L1188.4,898.4 L1193.4,901.0 L1198.4,903.6 L1203.4,906.1 L1208.4,908.7 L1213.4,911.2 L1218.4,913.8 L1223.4,916.3 L1228.4,918.8 L1233.4,921.4 L1238.4,923.9 L1243.4,926.4 L1248.4,928.9 L1253.4,931.5 L1258.4,934.0 L1263.4,936.5 L1268.4,939.0 L1273.4,941.5 L1278.4,944.0 L1283.3,946.5 L1288.3,949.1 L1293.3,951.6 L1298.3,954.1 L1303.3,956.6 L1308.3,959.1 L1313.3,961.6 L1318.3,964.1 L1323.3,966.6 L1328.3,969.1 L1333.3,971.5 L1338.3,974.0 L1343.3,976.5 L1348.3,979.0 L1353.3,981.4 L1358.3,983.9 L1363.3,986.4 L1368.3,988.8 L1373.3,991.2 L1378.3,993.7 L1383.2,996.1 L1388.2,998.5 L1393.2,1000.9 L1398.2,1003.3 L1403.2,1005.7 L1408.2,1008.1 L1413.2,1010.5 L1418.2,1012.8 L1423.2,1015.2 L1428.2,1017.5 L1433.2,1019.8 L1438.2,1022.1 L1443.2,1024.4 L1448.2,1026.7 L1453.2,1029.0 L1458.2,1031.2 L1463.2,1033.4 L1468.2,1035.7 L1473.2,1037.9 L1478.2,1040.1 L1483.1,1042.2 L1488.1,1044.4 L1493.1,1046.5 L1498.1,1048.6 L1503.1,1050.7 L1508.1,1052.7 L1513.1,1054.7 L1518.1,1056.6 L1523.1,1058.5 L1528.1,1060.3 L1533.1,1062.1 L1538.1,1063.9 L1543.1,1065.5 L1548.1,1067.1 L1553.1,1068.7 L1558.1,1070.1 L1563.1,1071.5 L1568.1,1072.8 L1573.1,1074.1 L1578.1,1075.2 L1583.0,1076.3 L1588.0,1077.2 L1593.0,1078.1 L1598.0,1078.9 L1603.0,1079.5 L1608.0,1080.1 L1613.0,1080.6 L1618.0,1080.9 L1623.0,1081.1 L1628.0,1081.2"/>
</g>
<g fill="#000" shape-rendering="crispEdges">
<rect x="296" y="65" width="9" height="13"/>
<rect x="296" y="1207" width="9" height="12"/>
<rect x="381" y="65" width="10" height="24"/>
<rect x="381" y="1195" width="10" height="24"/>
<rect x="467" y="65" width="9" height="13"/>
<rect x="467" y="1207" width="9" height="12"/>
<rect x="552" y="65" width="10" height="24"/>
<rect x="552" y="1195" width="10" height="24"/>
<rect x="639" y="65" width="9" height="13"/>
<rect x="639" y="1207" width="9" height="12"/>
<rect x="724" y="65" width="10" height="24"/>
<rect x="724" y="1195" width="10" height="24"/>
<rect x="810" y="65" width="9" height="13"/>
<rect x="810" y="1207" width="9" height="12"/>
<rect x="895" y="65" width="10" height="24"/>
<rect x="895" y="1195" width="10" height="24"/>
<rect x="981" y="65" width="9" height="13"/>
<rect x="981" y="1207" width="9" height="12"/>
<rect x="1066" y="65" width="10" height="24"/>
<rect x="1066" y="1195" width="10" height="24"/>
<rect x="1152" y="65" width="9" height="13"/>
<rect x="1152" y="1207" width="9" height="12"/>
<rect x="1237" y="65" width="10" height="24"/>
<rect x="1237" y="1195" width="10" height="24"/>
<rect x="1323" y="65" width="9" height="13"/>
<rect x="1323" y="1207" width="9" height="12"/>
<rect x="1409" y="65" width="10" height="24"/>
<rect x="1409" y="1195" width="10" height="24"/>
<rect x="1495" y="65" width="9" height="13"/>
<rect x="1495" y="1207" width="9" height="12"/>
<rect x="1580" y="65" width="10" height="24"/>
<rect x="1580" y="1195" width="10" height="24"/>
<rect x="1666" y="65" width="9" height="13"/>
<rect x="1666" y="1207" width="9" height="12"/>
<rect x="215" y="1157" width="12" height="10"/>
<rect x="1744" y="1157" width="12" height="10"/>
<rect x="215" y="1099" width="23" height="10"/>
<rect x="1733" y="1099" width="23" height="10"/>
<rect x="215" y="1041" width="12" height="10"/>
<rect x="1744" y="1041" width="12" height="10"/>
<rect x="215" y="984" width="23" height="10"/>
<rect x="1733" y="984" width="23" height="10"/>
<rect x="215" y="926" width="12" height="10"/>
<rect x="1744" y="926" width="12" height="10"/>
<rect x="215" y="868" width="23" height="10"/>
<rect x="1733" y="868" width="23" height="10"/>
<rect x="215" y="811" width="12" height="10"/>
<rect x="1744" y="811" width="12" height="10"/>
<rect x="215" y="753" width="23" height="10"/>
<rect x="1733" y="753" width="23" height="10"/>
<rect x="215" y="695" width="12" height="10"/>
<rect x="1744" y="695" width="12" height="10"/>
<rect x="215" y="638" width="23" height="10"/>
<rect x="1733" y="638" width="23" height="10"/>
<rect x="215" y="580" width="12" height="10"/>
<rect x="1744" y="580" width="12" height="10"/>
<rect x="215" y="522" width="23" height="10"/>
<rect x="1733" y="522" width="23" height="10"/>
<rect x="215" y="464" width="12" height="10"/>
<rect x="1744" y="464" width="12" height="10"/>
<rect x="215" y="407" width="23" height="10"/>
<rect x="1733" y="407" width="23" height="10"/>
<rect x="215" y="349" width="12" height="10"/>
<rect x="1744" y="349" width="12" height="10"/>
<rect x="215" y="291" width="23" height="10"/>
<rect x="1733" y="291" width="23" height="10"/>
<rect x="215" y="234" width="12" height="10"/>
<rect x="1744" y="234" width="12" height="10"/>
<rect x="215" y="176" width="23" height="10"/>
<rect x="1733" y="176" width="23" height="10"/>
<rect x="215" y="118" width="12" height="10"/>
<rect x="1744" y="118" width="12" height="10"/>
</g>
<g shape-rendering="crispEdges">
<rect x="557.5" y="99.5" width="1194" height="262" fill="#fff" stroke="#000" stroke-width="3"/>
<rect x="594" y="152" width="138" height="10" fill="#ff00ff"/>
<rect x="594" y="237" width="36" height="10" fill="#0000ff"/><rect x="676" y="237" width="35" height="10" fill="#0000ff"/>
<rect x="594" y="321" width="44" height="10" fill="#ff0000"/><rect x="664" y="321" width="6" height="10" fill="#ff0000"/><rect x="697" y="321" width="35" height="10" fill="#ff0000"/>
</g>
<text transform="translate(748.9,179.2) scale(1,1.07)" font-size="61.1" xml:space="preserve">Q(top):Q(bottom)=100:500 <tspan class="sym" dx="0.6">Δ</tspan><tspan dx="-1.6">=0.15%</tspan></text>
<text transform="translate(748.9,263.7) scale(1,1.07)" font-size="61.1" xml:space="preserve">Q(top):Q(bottom)=500:100 <tspan class="sym" dx="0.6">Δ</tspan><tspan dx="-1.6">=1.34%</tspan></text>
<text transform="translate(748.9,348.2) scale(1,1.07)" font-size="61.1" xml:space="preserve">Q(top):Q(bottom)=300:300 <tspan class="sym" dx="0.6">Δ</tspan><tspan dx="-1.6">=0.66%</tspan></text>
<g fill="#000" shape-rendering="crispEdges">
<rect x="214" y="60" width="1543" height="10"/>
<rect x="214" y="1214" width="1543" height="10"/>
<rect x="210" y="65" width="10" height="1155"/>
<rect x="1751" y="65" width="10" height="1155"/>
</g>
<g font-size="51">
<text transform="translate(215.0,1285) scale(1,1.03)" text-anchor="middle">120</text>
<text transform="translate(386.2,1285) scale(1,1.03)" text-anchor="middle">140</text>
<text transform="translate(557.4,1285) scale(1,1.03)" text-anchor="middle">160</text>
<text transform="translate(728.7,1285) scale(1,1.03)" text-anchor="middle">180</text>
<text transform="translate(899.9,1285) scale(1,1.03)" text-anchor="middle">200</text>
<text transform="translate(1071.1,1285) scale(1,1.03)" text-anchor="middle">220</text>
<text transform="translate(1242.3,1285) scale(1,1.03)" text-anchor="middle">240</text>
<text transform="translate(1413.6,1285) scale(1,1.03)" text-anchor="middle">260</text>
<text transform="translate(1584.8,1285) scale(1,1.03)" text-anchor="middle">280</text>
<text transform="translate(1756.0,1285) scale(1,1.03)" text-anchor="middle">300</text>
<text transform="translate(190.5,1235.0) scale(1,1.03)" text-anchor="end">1.0</text>
<text transform="translate(190.5,1119.6) scale(1,1.03)" text-anchor="end">1.5</text>
<text transform="translate(190.5,1004.2) scale(1,1.03)" text-anchor="end">2.0</text>
<text transform="translate(190.5,888.8) scale(1,1.03)" text-anchor="end">2.5</text>
<text transform="translate(190.5,773.4) scale(1,1.03)" text-anchor="end">3.0</text>
<text transform="translate(190.5,658.0) scale(1,1.03)" text-anchor="end">3.5</text>
<text transform="translate(190.5,542.6) scale(1,1.03)" text-anchor="end">4.0</text>
<text transform="translate(190.5,427.2) scale(1,1.03)" text-anchor="end">4.5</text>
<text transform="translate(190.5,311.8) scale(1,1.03)" text-anchor="end">5.0</text>
<text transform="translate(190.5,196.4) scale(1,1.03)" text-anchor="end">5.5</text>
<text transform="translate(190.5,81.0) scale(1,1.03)" text-anchor="end">6.0</text>
</g>
<text transform="translate(834.6,1373.7) scale(1,1.045)" font-size="61.2">Position (mm)</text>
<text transform="translate(77,963.9) rotate(-90) scale(1,1.02)" font-size="62.7" xml:space="preserve">Growth Rate (<tspan class="sym">μ</tspan><tspan dx="2.4">m/h)</tspan></text>
</svg></body></html>
